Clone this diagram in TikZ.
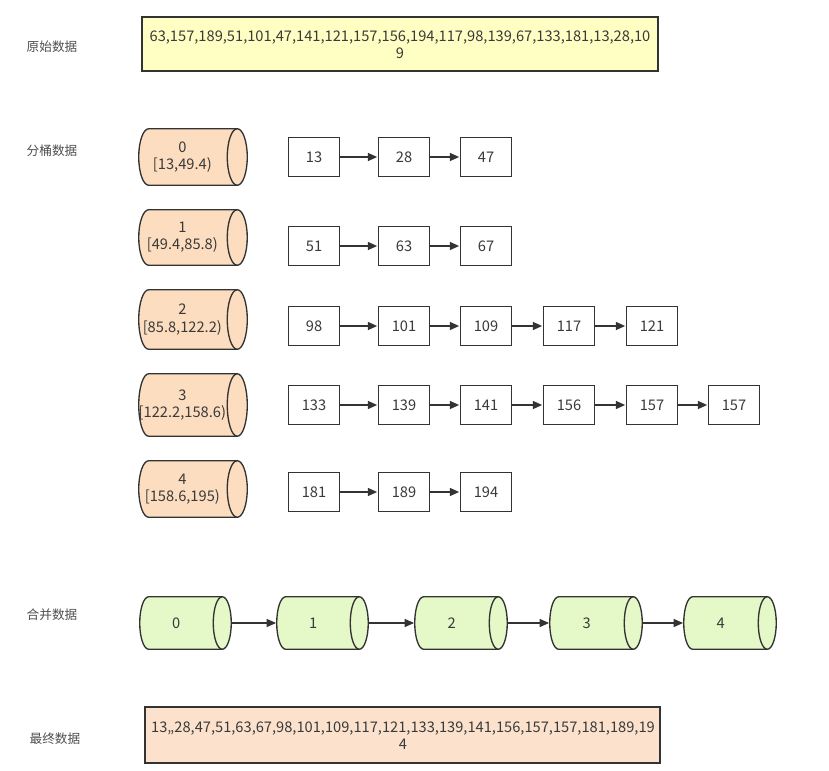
\documentclass[tikz,border=0pt]{standalone}
\usepackage{fontspec}
\setmainfont{Noto Sans CJK SC}
\usetikzlibrary{arrows.meta,fit,calc}
\definecolor{edge}{HTML}{333333}
\definecolor{txt}{HTML}{3A3A3A}
\definecolor{yellowfill}{HTML}{FFFFC4}
\definecolor{orangefill}{HTML}{FCDDC0}
\definecolor{greenfill}{HTML}{E4F8C8}
\definecolor{peachfill}{HTML}{FCE2CC}
\newcommand\drawcyl[3]{% node, x radius, fill
  \path[draw=edge, fill=#3, line width=1pt]
    let \p1=(#1.north east), \p2=(#1.south west), \n1={(\y1-\y2)/2} in
    (\x1-#2,\y1) -- (\x2+#2,\y1)
      arc[start angle=90, end angle=270, x radius=#2, y radius=\n1]
      -- (\x1-#2,\y2)
      arc[start angle=-90, end angle=90, x radius=#2, y radius=\n1] -- cycle;
  \path[draw=edge, line width=1pt]
    let \p1=(#1.north east), \p2=(#1.south west), \n1={(\y1-\y2)/2} in
    (\x1-#2,\y2) arc[start angle=270, end angle=90, x radius=#2, y radius=\n1];
}
\newcommand\bx[4]{\node[valbox] (#1) at (#2,#3) {#4};}
\newcommand\ar[2]{\draw[arr] (#1) -- (#2);}
\tikzset{
  valbox/.style={draw=edge, line width=1pt, fill=white, minimum width=38.25pt,
    minimum height=29.25pt, inner sep=0pt},
  arr/.style={draw=edge, line width=1.1pt, shorten >=0.5pt, -{Triangle[length=7pt,width=6pt]}},
  arrthin/.style={draw=edge, line width=0.8pt, shorten >=0.5pt, -{Triangle[length=7pt,width=6pt]}},
  cylbox/.style={inner sep=0pt},
  lbl/.style={font=\fontsize{9.5pt}{11pt}\selectfont, text=txt!90},
  databox/.style={draw=edge, line width=1.2pt, inner sep=0pt, align=center}
}
\begin{document}
\begin{tikzpicture}[x=0.75pt, y=-0.75pt, font=\fontsize{11pt}{13pt}\selectfont, text=txt]
\useasboundingbox (0,0) rectangle (829,771);

% side labels
\node[lbl] (l1) at (52,47) {原始数据};
\node[lbl] (l2) at (52,151) {分桶数据};
\node[lbl] (l3) at (52,615) {合并数据};
\node[lbl] (l4) at (55,739) {最终数据};

% top data box
\node[databox, fill=yellowfill, fit={(142,17) (658,71)}] (orig) {};
\node[align=center, inner sep=0pt] (origt) at (400,45)
  {63,157,189,51,101,47,141,121,157,156,194,117,98,139,67,133,181,13,28,10\\9};

% bucket cylinders
\node[cylbox, fit={(139,129) (247,185)}] (c0) {};
\node[cylbox, fit={(139,210) (247,265)}] (c1) {};
\node[cylbox, fit={(139,290) (247,349)}] (c2) {};
\node[cylbox, fit={(139,374) (247,436)}] (c3) {};
\node[cylbox, fit={(139,461) (247,517)}] (c4) {};
\drawcyl{c0}{7.5pt}{orangefill}
\drawcyl{c1}{7.5pt}{orangefill}
\drawcyl{c2}{7.5pt}{orangefill}
\drawcyl{c3}{7.5pt}{orangefill}
\drawcyl{c4}{7.5pt}{orangefill}
\node[align=center, inner sep=0pt] (c0t) at ([xshift=-8pt]c0.center) {0\\{}[13,49.4)};
\node[align=center, inner sep=0pt] (c1t) at ([xshift=-8pt]c1.center) {1\\{}[49.4,85.8)};
\node[align=center, inner sep=0pt] (c2t) at ([xshift=-8pt]c2.center) {2\\{}[85.8,122.2)};
\node[align=center, inner sep=0pt] (c3t) at ([xshift=-8pt]c3.center) {3\\{}[122.2,158.6)};
\node[align=center, inner sep=0pt] (c4t) at ([xshift=-8pt]c4.center) {4\\{}[158.6,195)};

% bucket lists
\def\xA{314}\def\xB{404}\def\xC{486}\def\xD{569}\def\xE{652}\def\xF{734}
\bx{a1}{\xA}{157}{13}\bx{a2}{\xB}{157}{28}\bx{a3}{\xC}{157}{47}
\ar{a1}{a2}\ar{a2}{a3}
\bx{b1}{\xA}{246}{51}\bx{b2}{\xB}{246}{63}\bx{b3}{\xC}{246}{67}
\ar{b1}{b2}\ar{b2}{b3}
\bx{d1}{\xA}{326}{98}\bx{d2}{\xB}{326}{101}\bx{d3}{\xC}{326}{109}\bx{d4}{\xD}{326}{117}\bx{d5}{\xE}{326}{121}
\ar{d1}{d2}\ar{d2}{d3}\ar{d3}{d4}\ar{d4}{d5}
\bx{e1}{\xA}{405}{133}\bx{e2}{\xB}{405}{139}\bx{e3}{\xC}{405}{141}\bx{e4}{\xD}{405}{156}\bx{e5}{\xE}{405}{157}\bx{e6}{\xF}{405}{157}
\ar{e1}{e2}\ar{e2}{e3}\ar{e3}{e4}\ar{e4}{e5}\ar{e5}{e6}
\bx{f1}{\xA}{492}{181}\bx{f2}{\xB}{492}{189}\bx{f3}{\xC}{492}{194}
\ar{f1}{f2}\ar{f2}{f3}

% merged cylinders
\node[cylbox, fit={(140,597) (231,649)}] (m0) {};
\node[cylbox, fit={(277,597) (368,649)}] (m1) {};
\node[cylbox, fit={(415,597) (507,649)}] (m2) {};
\node[cylbox, fit={(550,597) (642,649)}] (m3) {};
\node[cylbox, fit={(684,597) (776,649)}] (m4) {};
\drawcyl{m0}{6.75pt}{greenfill}
\drawcyl{m1}{6.75pt}{greenfill}
\drawcyl{m2}{6.75pt}{greenfill}
\drawcyl{m3}{6.75pt}{greenfill}
\drawcyl{m4}{6.75pt}{greenfill}
\node[inner sep=0pt] (m0t) at ([xshift=-7pt]m0.center) {0};
\node[inner sep=0pt] (m1t) at ([xshift=-7pt]m1.center) {1};
\node[inner sep=0pt] (m2t) at ([xshift=-7pt]m2.center) {2};
\node[inner sep=0pt] (m3t) at ([xshift=-7pt]m3.center) {3};
\node[inner sep=0pt] (m4t) at ([xshift=-7pt]m4.center) {4};
\draw[arrthin] (m0.east) -- (m1.west);
\draw[arrthin] (m1.east) -- (m2.west);
\draw[arrthin] (m2.east) -- (m3.west);
\draw[arrthin] (m3.east) -- (m4.west);

% final data box
\node[databox, fill=peachfill, fit={(145,707) (660,763)}] (final) {};
\node[align=center, inner sep=0pt] (finalt) at (403,736)
  {13,,28,47,51,63,67,98,101,109,117,121,133,139,141,156,157,157,181,189,19\\4};
\end{tikzpicture}
\end{document}
